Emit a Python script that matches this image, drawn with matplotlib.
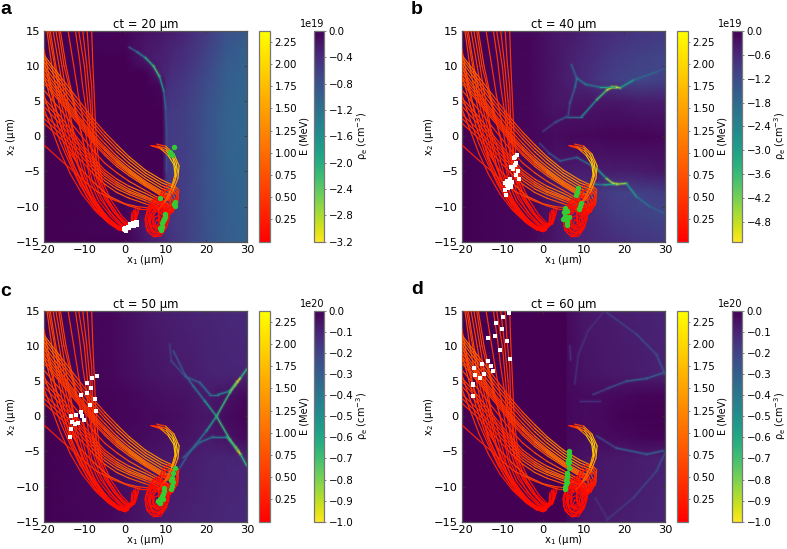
"""Electron trajectories over the plasma density map, four time steps."""
import matplotlib
matplotlib.use("Agg")
import matplotlib.pyplot as plt
import numpy as np
from matplotlib.cm import ScalarMappable
from matplotlib.collections import LineCollection
from matplotlib.colors import Normalize

plt.rcParams.update({
    "font.family": "DejaVu Sans",
    "font.size": 7,
    "mathtext.default": "regular",
    "axes.linewidth": 0.9,
    "axes.edgecolor": "#555555",
})

W, H = 787, 549
E_MAX = 2.37
E_TICKS = [0.25, 0.5, 0.75, 1.0, 1.25, 1.5, 1.75, 2.0, 2.25]
X_TICKS = [-20, -10, 0, 10, 20, 30]
Y_TICKS = [-15, -10, -5, 0, 5, 10, 15]

# trajectories, (x1, x2, E) per vertex; same set in each panel
STEEP = [
    [(-8.2,15,.5),(-7.9,10,.5),(-7.5,5,.45),(-7.2,1,.4),(-6.6,-3,.35),(-5.7,-6.2,.3),(-3.5,-9,.2),(-1,-11.2,.15),(1,-12.4,.1),(2.5,-12.3,.1),(3.2,-11,.1),(3.5,-10,.1)],
    [(-9.3,15,.5),(-8.8,10.5,.5),(-8.2,7,.45),(-8,3,.4),(-7.6,0,.4),(-7,-3.5,.3),(-6,-6.5,.25),(-4,-9.3,.2),(-1.5,-11.4,.15),(.8,-12.6,.1),(2,-12.4,.1),(2.9,-11.2,.1),(3,-10.2,.1)],
    [(-11.4,15,.5),(-10,10,.5),(-9.2,5,.45),(-8.7,1.6,.4),(-8,-2,.35),(-7,-5.5,.3),(-5.5,-8,.2),(-3,-10.6,.15),(-.5,-12.2,.1),(1,-12.9,.1),(2.3,-12.5,.1),(2.6,-11,.1),(2.5,-10.3,.1)],
    [(-12.2,15,.55),(-11.2,11,.5),(-10.4,7,.45),(-9.4,3.3,.4),(-8.8,0,.35),(-8,-3,.3),(-7,-6,.25),(-5,-8.9,.2),(-2.5,-11,.15),(-.2,-12.5,.1),(1.2,-13,.1),(2.2,-12,.1),(2.3,-10.6,.1)],
    [(-15.9,15,.6),(-14.5,10,.55),(-13,6,.5),(-11,1,.4),(-10.2,-1,.35),(-9,-4,.3),(-8,-6.5,.25),(-6,-9,.2),(-3,-11.2,.15),(-.5,-12.7,.1),(1,-13,.1),(1.8,-12,.1),(2.1,-10.5,.1)],
    [(-16.3,15,.6),(-15,10,.55),(-13.5,6.5,.5),(-12,3,.45),(-10.5,0,.4),(-9.5,-3.5,.3),(-8.5,-6.5,.25),(-6.5,-9.2,.2),(-3.5,-11.4,.15),(-1,-12.8,.1),(.6,-13.1,.1),(1.5,-12.2,.1),(1.7,-10.8,.1)],
    [(-17,15,.6),(-15.5,10,.55),(-14.4,6,.5),(-12.8,1,.4),(-11.5,-1,.35),(-10.2,-4,.3),(-9,-6.8,.25),(-7,-9.5,.2),(-4,-11.7,.15),(-1.2,-13,.1),(.4,-13.2,.1),(1.2,-12.4,.1)],
    [(-18.4,15,.65),(-17,10,.6),(-15.4,5.5,.5),(-13.1,0,.4),(-11.5,-4,.3),(-9.2,-7.5,.25),(-7,-10,.2),(-4,-12,.15),(-1.5,-13.1,.1),(.2,-13.3,.1),(1,-12.6,.1)],
    [(-19.2,15,.65),(-18,10,.6),(-17,6.9,.55),(-15,1,.4),(-13.4,-1.8,.35),(-11,-5,.3),(-9,-8,.25),(-6,-10.4,.2),(-3,-12.2,.15),(-.5,-13.3,.1),(.8,-13.2,.1)],
    [(-20,12.5,.7),(-18.5,8,.6),(-17.2,4.5,.55),(-15,0,.4),(-13.5,-3,.35),(-11,-6,.3),(-9,-8.3,.25),(-6,-11,.2),(-2.5,-12.8,.15),(-.5,-13.5,.1),(.8,-13.4,.1),(1.3,-12.5,.1)],
    [(-20,9,.7),(-18.2,5,.6),(-16.5,1.5,.5),(-14.5,-2,.4),(-12,-5.5,.3),(-9.5,-8.5,.25),(-6.5,-11,.2),(-3,-12.7,.15),(-.8,-13.4,.1),(.4,-13.5,.1)],
    [(-20,6,.6),(-18,2.5,.5),(-15.8,-1,.4),(-13.5,-4,.35),(-11,-7,.3),(-8,-9.8,.2),(-4.5,-12,.15),(-1.5,-13.2,.1),(.3,-13.4,.1)],
    [(-18.8,15,.6),(-17,9,.55),(-15.8,5,.5),(-14.2,1,.4),(-12.6,-2.5,.35),(-10.6,-5.8,.3),(-8.2,-8.8,.2),(-5,-11.2,.15),(-2,-12.8,.1),(.2,-13.1,.1),(1.5,-12.8,.1),(1.9,-11.2,.1)],
    [(-14,15,.55),(-12.6,10,.5),(-11.5,6,.45),(-10,1.5,.4),(-9,-2,.35),(-8,-5,.3),(-6.4,-8,.2),(-3.8,-10.8,.15),(-1,-12.6,.1),(.9,-13,.1),(2.1,-12.3,.1),(2.8,-10.8,.1)],
    [(-10.4,15,.5),(-9.4,10,.5),(-8.6,5,.45),(-8.1,1,.4),(-7.4,-2.5,.35),(-6.4,-5.8,.3),(-4.6,-8.6,.2),(-2,-11,.15),(.3,-12.4,.1),(1.7,-12.7,.1),(2.7,-11.6,.1)],
    [(-17.7,15,.65),(-16.2,10,.55),(-14.9,5.8,.5),(-13.2,1.5,.45),(-11.9,-2,.35),(-10,-5.6,.3),(-7.6,-8.8,.2),(-4.6,-11.4,.15),(-1.7,-13,.1),(.1,-13.2,.1)],
    [(-20,11,.7),(-18.3,6.5,.6),(-16.6,3,.5),(-14.7,-.6,.4),(-12.8,-3.8,.35),(-10.4,-7,.3),(-7.6,-9.7,.2),(-4.2,-12,.15),(-1.4,-13.3,.1),(.2,-13.6,.1),(1,-13,.1)],
    [(-20,4,.55),(-18,1,.5),(-15.8,-2.4,.4),(-13.4,-5.4,.35),(-10.6,-8.2,.25),(-7.5,-10.5,.2),(-4,-12.4,.15),(-1.4,-13.4,.1)],
]
GENTLE = [
    [(-20,11.6,1.1),(-16,8.6,.85),(-12,5.6,.6),(-8,2.6,.5),(-5,.6,.65),(-2,-1.2,.9),(1,-2.9,1.1),(5,-4.8,1.25),(9,-6.2,1.25),(12,-7,1.0),(13.2,-7.6,.6),(13,-9.4,.3),(11.4,-10.8,.2),(9.6,-10.6,.2),(8.8,-9,.3),(10,-7.6,.4)],
    [(-20,11.2,1.05),(-16,8.1,.8),(-12,5,.6),(-8,2.1,.5),(-5,.1,.65),(-2,-1.7,.9),(1,-3.3,1.1),(5,-5.2,1.25),(9,-6.6,1.25),(12,-7.3,1.0),(13,-8,.6),(12.8,-9.8,.3),(11,-11,.2),(9.4,-10.4,.2),(8.8,-8.8,.3)],
    [(-20,10.7,1.0),(-16,7.6,.8),(-12,4.5,.55),(-8,1.6,.5),(-5,-.4,.6),(-2,-2.2,.85),(1,-3.8,1.05),(5,-5.6,1.2),(9,-7,1.2),(11.8,-7.6,.9),(12.8,-8.4,.5),(12.2,-10.2,.3),(10.6,-11,.2),(9,-10,.2)],
    [(-20,10.1,.9),(-16,7,.7),(-12,3.9,.55),(-8,.9,.5),(-5,-1,.6),(-2,-2.8,.85),(1,-4.3,1.05),(5,-6,1.2),(9,-7.4,1.1),(11.6,-8,.8),(12.4,-9,.4),(11.6,-10.6,.2),(10,-10.8,.2),(8.8,-9.6,.2)],
    [(-20,9.6,.85),(-16,6.4,.65),(-12,3.3,.5),(-8,.4,.45),(-5,-1.5,.6),(-2,-3.2,.85),(1,-4.7,1.05),(5,-6.4,1.1),(9,-7.8,1.0),(11.2,-8.4,.7),(12,-9.6,.3),(11,-11,.2),(9.5,-11,.2)],
    [(-20,8.6,.7),(-16,5.6,.6),(-12,2.7,.5),(-8,-.2,.45),(-5,-2,.6),(-2,-3.7,.8),(1,-5.1,1.0),(5,-6.8,1.1),(9,-8.2,.9),(11,-8.8,.6),(11.5,-10,.3),(10.2,-11.2,.2)],
    [(-20,7.6,.65),(-16,4.9,.55),(-12,2.1,.45),(-8,-.8,.4),(-5,-2.7,.55),(-2,-4.3,.75),(1,-5.6,.9),(5,-7.1,1.0),(9,-8.5,.8),(11,-9.2,.5),(11.2,-10.4,.2)],
    [(-20,6.6,.65),(-16,3.9,.5),(-12,1,.4),(-8,-1.9,.4),(-5,-3.8,.5),(-2,-5.2,.65),(1,-6.4,.8),(5,-7.7,.9),(9,-9,.6),(10.8,-9.8,.3),(10.4,-11,.2)],
    [(-20,5.5,.6),(-16,2.9,.5),(-12,0,.4),(-8,-2.9,.4),(-5,-4.8,.5),(-2,-6.1,.7),(1,-7.1,1.0),(5,-8.1,1.1),(8,-9,.9),(10.5,-9.6,.5),(11,-10.8,.2),(9.5,-11.6,.1)],
    [(-20,5,.55),(-16,2.4,.45),(-12,-.5,.4),(-8,-3.3,.4),(-5,-5.2,.5),(-2,-6.5,.7),(1,-7.5,1.0),(5,-8.5,1.0),(8,-9.3,.8),(10,-9.9,.4),(10.4,-11,.2)],
    [(-20,3.2,.5),(-16,1,.4),(-12,-1.5,.35),(-8,-4.1,.4),(-5,-5.9,.6),(-2,-7.1,.8),(1,-8,1.0),(5,-8.9,.9),(8,-9.6,.6),(9.8,-10.3,.3),(9.2,-11.6,.1)],
    [(-20,2.6,.5),(-16,.4,.4),(-12,-2,.35),(-8,-4.6,.4),(-5,-6.3,.7),(-2,-7.5,.9),(1,-8.3,1.0),(5,-9.2,.8),(8,-9.9,.5),(9.4,-10.8,.2)],
    [(-20,1.9,.45),(-16,-.2,.35),(-12,-2.7,.35),(-8,-5.2,.4),(-5,-6.8,.7),(-2,-8,.9),(1,-8.8,.9),(5,-9.6,.7),(8,-10.2,.4),(9.2,-11.2,.1)],
    [(-20,-1.2,.3),(-16,-3.3,.3),(-13,-4.8,.3),(-10,-6.4,.35),(-7,-7.8,.5),(-3,-9,.5),(1,-9.9,.5),(4,-10.4,.4),(6,-10.4,.2),(7.5,-9.8,.1)],
    [(-14,-1.8,.35),(-11,-4.6,.35),(-8,-6.4,.5),(-4,-8.5,.7),(0,-9.6,.7),(3,-10,.6),(6,-10.2,.3),(8,-10.4,.1)],
    [(-20,9.1,.8),(-16,6,.6),(-12,3,.5),(-8,.1,.45),(-5,-1.8,.6),(-2,-3.5,.8),(1,-4.9,1.0),(5,-6.6,1.1),(9,-8,.9),(11,-8.6,.6)],
    [(-20,8.1,.7),(-16,5.2,.55),(-12,2.4,.45),(-8,-.5,.4),(-5,-2.4,.55),(-2,-4,.75),(1,-5.3,.95),(5,-6.9,1.05),(9,-8.4,.8),(11,-9,.5)],
    [(-20,4.3,.55),(-16,1.8,.45),(-12,-.9,.35),(-8,-3.7,.4),(-5,-5.5,.55),(-2,-6.8,.75),(1,-7.8,1.0),(5,-8.7,.9),(8,-9.4,.7),(10,-10.1,.3)],
]
LOOPS = [
    [(10.6,-10.6,.3),(9.8,-9.4,.2),(8.3,-8.9,.1),(6.8,-9.3,.1),(5.6,-10.5,.1),(5.3,-12,.1),(6,-13.4,.1),(7.5,-14,.1),(9.2,-13.7,.1),(10.4,-12.5,.1),(10.8,-11,.1),(10.2,-9.9,.2)],
    [(10.8,-10,.3),(9.6,-9.2,.2),(8,-9.2,.1),(6.4,-9.9,.1),(5.2,-11.2,.1),(5.1,-12.8,.1),(6.2,-13.9,.1),(7.9,-14.2,.1),(9.6,-13.4,.1),(10.6,-12,.1),(10.5,-10.5,.1)],
    [(11,-11,.3),(10.2,-9.8,.2),(8.8,-9.3,.1),(7.2,-9.6,.1),(6,-10.7,.1),(5.7,-12.1,.1),(6.5,-13.4,.1),(8,-13.8,.1),(9.6,-13.3,.1),(10.7,-12.1,.1),(10.9,-10.9,.1)],
    [(10,-9.8,.2),(8.6,-9.7,.1),(7.2,-10.2,.1),(6.2,-11.3,.1),(6.1,-12.6,.1),(7,-13.6,.1),(8.4,-13.8,.1),(9.7,-13,.1),(10.2,-11.7,.1),(9.8,-10.4,.1)],
    [(9.4,-10.2,.2),(8,-10.1,.1),(6.7,-10.8,.1),(6.2,-12,.1),(6.6,-13.2,.1),(7.9,-13.7,.1),(9.2,-13.2,.1),(9.9,-12,.1),(9.6,-10.8,.1)],
    [(11.4,-9.8,.3),(10.4,-8.6,.2),(8.8,-8.4,.1),(7,-9,.1),(5.6,-10.2,.1),(4.9,-11.8,.1),(5.4,-13.4,.1),(7,-14.3,.1),(8.8,-14.2,.1),(10.2,-13,.1),(10.9,-11.4,.1)],
    [(8.9,-10.8,.1),(7.6,-10.7,.1),(6.8,-11.5,.1),(6.8,-12.7,.1),(7.8,-13.4,.1),(9,-13,.1),(9.5,-11.9,.1),(8.9,-10.8,.1)],
    [(8.2,-11.3,.1),(7.2,-11.5,.1),(7,-12.5,.1),(7.9,-13.1,.1),(8.9,-12.6,.1),(9,-11.6,.1),(8.2,-11.3,.1)],
    [(9.8,-11,.1),(8.6,-10.2,.1),(7.3,-10.6,.1),(6.6,-11.7,.1),(7.1,-13,.1),(8.5,-13.2,.1),(9.6,-12.4,.1),(9.8,-11,.1)],
    [(8.6,-12,.1),(7.8,-11.9,.1),(7.4,-12.5,.1),(8,-12.9,.1),(8.7,-12.6,.1),(8.6,-12,.1)],
    [(7.8,-10,.1),(6.6,-10.2,.1),(5.9,-11.2,.1),(6.1,-12.5,.1),(7.2,-13,.1),(8.4,-12.4,.1),(8.6,-11,.1),(7.8,-10,.1)],
    [(10.4,-10.6,.1),(9.2,-10,.1),(8.2,-10.6,.1),(8.2,-12,.1),(9.2,-12.6,.1),(10.3,-12,.1),(10.4,-10.6,.1)],
    [(12.8,-8,.4),(12,-7,.5),(10.6,-6.9,.3),(9.2,-7.6,.2),(8.4,-8.9,.1),(8.8,-10.4,.1),(10.2,-11.2,.1),(11.8,-10.8,.1),(12.8,-9.6,.2),(12.9,-8.2,.3)],
    [(12.2,-8.2,.3),(11.2,-7.5,.3),(9.8,-7.8,.2),(9,-9,.1),(9.5,-10.4,.1),(10.9,-10.8,.1),(12.2,-10,.1),(12.6,-8.8,.2)],
    [(11.4,-8.6,.3),(10.2,-8.4,.2),(9.6,-9.4,.1),(10.4,-10.4,.1),(11.6,-10,.1),(11.9,-9,.2)],
]
ARCS = [
    [(6.3,-1.3,.1),(8,-1.4,.5),(10,-1.7,1.2),(11.5,-2.5,1.6),(12.6,-3.8,1.9),(12.9,-5,1.8),(12.2,-6.5,1.4),(11,-8,1),(9.5,-9.5,.6),(8,-10.5,.3)],
    [(7.8,-1.1,.2),(10,-1.4,.9),(12,-2.5,1.5),(13.3,-4.2,1.8),(13,-6,1.6),(11.8,-7.8,1.1),(10.2,-9.2,.6)],
    [(6.6,-1.4,.1),(8.4,-1.6,.7),(10.2,-2.1,1.4),(11.8,-3.2,1.9),(12.5,-4.5,2.0),(12.4,-5.9,1.7),(11.6,-7.2,1.2),(10.4,-8.6,.7)],
    [(7,-1.4,.2),(8.8,-1.8,.9),(10.6,-2.7,1.6),(12,-4,2.0),(12.3,-5.4,1.8),(11.4,-7.4,1.2),(9.8,-9.3,.5)],
]

TITLES = ["ct = 20 µm", "ct = 40 µm", "ct = 50 µm", "ct = 60 µm"]
LETTERS = ["a", "b", "c", "d"]
RHO_TICKS = [
    [-3.2, -2.8, -2.4, -2.0, -1.6, -1.2, -0.8, -0.4, 0.0],
    [-4.8, -4.2, -3.6, -3.0, -2.4, -1.8, -1.2, -0.6, 0.0],
    [-1.0, -0.9, -0.8, -0.7, -0.6, -0.5, -0.4, -0.3, -0.2, -0.1, 0.0],
    [-1.0, -0.9, -0.8, -0.7, -0.6, -0.5, -0.4, -0.3, -0.2, -0.1, 0.0],
]
RHO_MIN = [-3.2, -5.3, -1.0, -1.0]
RHO_EXP = ["1e19", "1e19", "1e20", "1e20"]

GRID_X = [
    [-20, 0, 5, 9.2, 10.2, 11, 15, 20, 25, 30],
    [-20, -3, 3, 8, 13, 18, 23, 30],
    [-20, -3, 5, 10, 15, 20, 25, 30],
    [-20, 5.6, 6, 10, 15, 20, 25, 30],
]
GRID_Y = [
    [-15, -13, -8, -3, 3, 7, 9, 11, 13, 15],
    [-15, -11, -8, -5, 0, 5, 8, 11, 15],
    [-15, -6, -3, 0, 3, 6, 15],
    [-15, -6, -3, 0, 3, 6, 15],
]
GRID_RHO = [
    [[0, 0, -.2, -.35, -.4, -.45, -.6, -.8, -.95, -1.0],
     [0, -.05, -.25, -.4, -.45, -.5, -.6, -.8, -.95, -1.0],
     [0, 0, 0, 0, -.45, -.5, -.6, -.8, -.95, -1.05],
     [0, 0, 0, 0, -.5, -.55, -.6, -.8, -1.0, -1.05],
     [0, 0, 0, 0, -.5, -.55, -.6, -.8, -1.0, -1.05],
     [0, 0, 0, -.05, -.4, -.45, -.55, -.75, -.95, -1.05],
     [0, 0, 0, -.3, -.35, -.4, -.5, -.7, -.95, -1.0],
     [0, 0, -.2, -.3, -.3, -.35, -.45, -.65, -.9, -1.0],
     [0, -.05, -.2, -.25, -.3, -.3, -.4, -.6, -.85, -.95],
     [0, -.05, -.15, -.2, -.25, -.25, -.35, -.55, -.8, -.9]],
    [[0, -.1, -.3, -.5, -.6, -.7, -.8, -.9],
     [0, -.1, -.3, -.5, -.7, -.9, -1, -1.1],
     [0, -.1, -.3, -.5, -.8, -1, -1, -.9],
     [0, -.1, -.3, -.4, -.4, -.4, -.4, -.3],
     [0, -.1, -.15, -.1, -.1, -.05, -.05, -.1],
     [0, -.1, -.3, -.3, -.3, -.3, -.4, -.4],
     [0, -.1, -.3, -.5, -.8, -1, -1.1, -1],
     [0, -.1, -.3, -.5, -.7, -.9, -1, -1.1],
     [0, -.1, -.3, -.4, -.6, -.7, -.8, -.9]],
    [[0, -.02, -.06, -.08, -.09, -.1, -.11, -.12],
     [0, -.02, -.05, -.06, -.07, -.09, -.1, -.1],
     [0, -.01, -.03, -.04, -.05, -.07, -.05, -.02],
     [0, -.01, -.02, -.03, -.04, -.06, -.03, -.01],
     [0, -.01, -.03, -.04, -.05, -.07, -.05, -.02],
     [0, -.02, -.05, -.06, -.07, -.09, -.1, -.1],
     [0, -.02, -.06, -.08, -.09, -.1, -.11, -.12]],
    [[0, 0, -.025, -.06, -.07, -.08, -.09, -.1],
     [0, 0, -.025, -.05, -.06, -.07, -.08, -.09],
     [0, 0, -.02, -.03, -.03, -.02, -.01, -.01],
     [0, 0, -.02, -.03, -.02, -.005, 0, 0],
     [0, 0, -.02, -.03, -.03, -.02, -.01, -.01],
     [0, 0, -.025, -.05, -.06, -.07, -.08, -.09],
     [0, 0, -.025, -.06, -.07, -.08, -.09, -.1]],
]

# bright density filaments, (x1, x2, rho) per vertex
RIDGES = [
    [
        [(1,12.7,-.7),(3,12,-1.1),(5,11.2,-1.6),(7,10,-2.4),(8.5,8.5,-2.1),(9.5,6.5,-1.3),(10,4,-.9),(10.3,0,-.8),(10.2,-5,-.7)],
    ],
    [
        [(0,.7,-.7),(3,2,-1.2),(5.8,2.8,-1.6),(9.5,2.8,-2),(13.2,5.2,-3),(15.7,6.6,-4.4),(17,7,-5.3),(17.9,7,-5.3),(19,6.9,-3.8),(22.2,8,-2),(28,9.2,-1.6),(30,9.7,-1.3)],
        [(8.3,8.3,-2.4),(10.5,7.4,-1.7),(14,7,-2.4),(17.7,7,-3.8)],
        [(7,10.2,-1),(8.3,8.3,-2.2),(7.9,7,-1.8),(6.6,4.7,-1.3),(6.2,3,-1)],
        [(-.8,-1,-.7),(1.5,-2.4,-1.2),(4.2,-3.5,-1.5),(8.3,-3,-1.4),(13.2,-4.6,-2.2),(15.6,-6,-3.4),(17.2,-6.7,-5.3),(18.2,-6.8,-5.3),(20.5,-6.7,-3.4),(23,-8.6,-2.2),(26.3,-10,-1.7),(30,-11,-1.4)],
        [(12.3,-6.8,-1.7),(15,-6.9,-2.4),(17.9,-6.8,-3.8)],
    ],
    [
        [(29.9,6.7,-.42),(28.3,5.4,-.9),(27.6,4.9,-1),(27,4.4,-.9),(25.8,3.4,-.65),(22.5,0,-.7),(25.8,-3.3,-.65),(27.2,-4.4,-.9),(27.8,-4.9,-1),(28.4,-5.4,-.9),(29.9,-7,-.42)],
        [(11.9,9.3,-.22),(14.7,6,-.3),(16.8,4.3,-.36),(19.6,2.2,-.42),(22.5,0,-.7),(20,-2.1,-.42),(16,-5,-.34),(13.5,-7.3,-.25)],
        [(14.7,5.7,-.25),(18.4,4.8,-.34),(20.9,3.1,-.38),(22.9,3.1,-.36),(25.8,3.6,-.55),(27.6,4.9,-.85)],
        [(14.3,-5.9,-.25),(18.4,-3.7,-.34),(21.7,-2.9,-.38),(25,-2.9,-.42),(27.8,-4.9,-.85)],
        [(11,10.3,-.17),(11.4,7.9,-.18),(14.3,6,-.25)],
    ],
    [
        [(12.3,3.1,-.16),(16,4,-.2),(20.5,5,-.27),(25.5,5.4,-.36),(29.6,6.2,-.25)],
        [(13.2,-2.8,-.16),(18,-4.5,-.24),(25.5,-5.4,-.36),(29.6,-4.9,-.25)],
        [(15.6,14.8,-.17),(23,11.7,-.2),(27.9,8.8,-.24),(30,6,-.26)],
        [(30,-5.2,-.26),(27.9,-7.8,-.22),(22.2,-11.6,-.18),(15.6,-14.8,-.16)],
        [(14.8,14.8,-.13),(11.1,12.2,-.13),(8.7,8.8,-.13),(7.8,4.6,-.12)],
        [(12.8,-11.6,-.13),(16,-14.7,-.14)],
        [(6.6,10,-.14),(6.8,8,-.14)],
        [(9,2.2,-.16),(14,2.2,-.12)],
    ],
]

WHITE_X = [
    [-.3, 0, .3, .5, .8, 1, 1.3, 1.5, 1.8, 2, 2.3, 2.6, 3, 2.7, .2, -.1, 1.2, 2.2, 2.9],
    [-6.4, -6.8, -7.2, -6.7, -7, -7.8, -7.4, -6.1, -6.6, -5.9, -8.2, -8.8, -8.4, -7.6, -9.3, -8.9, -7.8, -8.4, -7.9, -8.6, -9.3, -9],
    [-7, -8.2, -9.4, -8.3, -9.4, -10.9, -7.5, -8.7, -7.1, -10.8, -10.5, -12.1, -13.2, -10, -13, -11.5, -12.3, -13.4, -13.5],
    [-8.4, -9.9, -11.6, -10.2, -11.7, -13.6, -8.9, -10.5, -8.2, -13.5, -15, -12.9, -17, -12.4, -14.4, -16.8, -15.4, -17.1, -17.2, -17.2],
]
WHITE_Y = [
    [-13.2, -13.4, -13.5, -13, -12.9, -13, -12.8, -12.5, -12.6, -12.3, -12.4, -12.2, -12.2, -12.6, -13, -13, -12.5, -12.7, -12.6],
    [-2.7, -2.9, -3.1, -3.8, -4.1, -4.3, -4.6, -5, -5.5, -6.1, -6.1, -6.4, -6.6, -6.5, -6.7, -6.9, -6.9, -7, -7.2, -7.3, -7.6, -8.3],
    [5.7, 5.4, 4.7, 4, 3.3, 3.1, 2.5, 1.6, .8, .6, .1, .2, 0, -.5, -.8, -1, -1.1, -1.8, -3],
    [14.7, 14.1, 13.3, 12.5, 11.5, 11.2, 10.7, 9.5, 8.2, 7.9, 7.4, 7.2, 6.9, 6.4, 6, 5.9, 5.5, 4.6, 4.4, 2.9],
]
GREEN_X = [
    [12, 11, 11.2, 11.5, 8.6, 12.3, 12.1, 12.2, 9.9, 9.8, 9.5, 9.3, 9, 9, 8.7, 8.9],
    [8.6, 8.3, 8.1, 9.3, 9, 8.9, 5.5, 5.8, 5.2, 6, 5.5, 6.5, 4.8, 5.6, 6, 5.9, 5.8],
    [12.2, 11.9, 11.6, 11.4, 11.9, 11.6, 11.2, 9.7, 9.6, 9.4, 9.2, 9.3, 8.7, 8.4, 8.7, 8.2],
    [6.5, 6.3, 6.4, 6.1, 6.5, 6.2, 6.3, 6, 5.9, 5.8, 5.6, 5.8, 5.6, 5.4, 5.3],
]
GREEN_Y = [
    [-1.5, -2.2, -2.5, -2.6, -8.8, -9.3, -9.6, -9.9, -11, -11.5, -11.8, -12.1, -12.4, -12.9, -13, -13.4],
    [-7.3, -7.9, -8.4, -9.5, -9.9, -10.3, -10.2, -10.6, -10.8, -10.7, -11.3, -11.5, -11.7, -11.5, -12.1, -12.4, -12.6],
    [-7.4, -8, -8.8, -9.1, -9.4, -9.9, -10.3, -10.2, -10.7, -11, -11.4, -11.8, -11.8, -12.2, -12.4, -12.1],
    [-5, -5.4, -5.8, -6.2, -6.5, -6.7, -7.4, -8, -8.3, -8.7, -9, -9.4, -9.7, -10, -10.4],
]

# panel origins in pixels (left, top)
ORIGINS = [(43.7, 31), (461.7, 31), (43.7, 311), (461.7, 311)]
LETTER_XY = [(0, 10), (411, 9), (0, 291), (411, 290)]


def px_axes(fig, left, top, width, height):
    return fig.add_axes([left / W, 1 - (top + height) / H, width / W, height / H])


def add_lines(ax, tracks, cmap, norm, lw, alpha=1.0, zorder=3):
    segs, vals = [], []
    for tr in tracks:
        pts = np.array(tr, dtype=float)
        for a, b in zip(pts[:-1], pts[1:]):
            segs.append([a[:2], b[:2]])
            vals.append((a[2] + b[2]) / 2)
    lc = LineCollection(segs, colors=cmap(norm(vals)), linewidths=lw, alpha=alpha,
                        zorder=zorder, capstyle="round")
    ax.add_collection(lc)


fig = plt.figure(figsize=(W / 100, H / 100), dpi=100)
e_norm = Normalize(0, E_MAX)
e_cmap = plt.get_cmap("autumn")
rho_cmap = plt.get_cmap("viridis_r")
all_tracks = STEEP + GENTLE + LOOPS + ARCS

for i in range(4):
    left, top = ORIGINS[i]
    ax = px_axes(fig, left, top, 203.3, 210.7)
    rho_norm = Normalize(RHO_MIN[i], 0)
    ax.pcolormesh(GRID_X[i], GRID_Y[i], np.array(GRID_RHO[i]), cmap=rho_cmap, norm=rho_norm,
                  shading="gouraud", zorder=1, rasterized=True)
    # soft edge on the filaments
    add_lines(ax, RIDGES[i], rho_cmap, rho_norm, 3.2, alpha=0.13, zorder=2)
    add_lines(ax, RIDGES[i], rho_cmap, rho_norm, 1.9, alpha=0.28, zorder=2)
    add_lines(ax, RIDGES[i], rho_cmap, rho_norm, 0.8, alpha=0.9, zorder=2)
    add_lines(ax, all_tracks, e_cmap, e_norm, 0.85)
    ax.scatter(WHITE_X[i], WHITE_Y[i], s=10, marker="s", color="white", linewidths=0, zorder=5)
    ax.scatter(GREEN_X[i], GREEN_Y[i], s=15, color="#33cc33", linewidths=0, zorder=5)
    ax.set_xlim(-20, 30)
    ax.set_ylim(-15, 15)
    ax.set_xticks(X_TICKS)
    ax.set_yticks(Y_TICKS)
    ax.tick_params(direction="in", length=2.5, width=0.5, top=True, right=True,
                   labelsize=8.2, pad=2.5, color="#333333")
    ax.set_xlabel(r"x$_1$ (µm)", fontsize=7.2, labelpad=-1.5)
    ax.set_ylabel(r"x$_2$ (µm)", fontsize=7.2, labelpad=-1)
    ax.set_title(TITLES[i], fontsize=8.4, pad=2.5)
    fig.text(LETTER_XY[i][0] / W, 1 - LETTER_XY[i][1] / H, LETTERS[i], fontsize=14,
             fontweight="bold", family="Liberation Sans", va="center", ha="left")

    cax_e = px_axes(fig, left + 215.6, top, 11, 210.7)
    cb_e = fig.colorbar(ScalarMappable(e_norm, e_cmap), cax=cax_e)
    cb_e.set_ticks(E_TICKS)
    cb_e.set_ticklabels([f"{v:.2f}" for v in E_TICKS])
    cb_e.ax.tick_params(labelsize=7.4, length=1.5, width=0.5, pad=1.5, color="#555555")
    cb_e.outline.set_edgecolor("#777777")
    cb_e.outline.set_linewidth(0.9)
    cb_e.set_label("E (MeV)", fontsize=7, labelpad=1.5)

    cax_r = px_axes(fig, left + 270, top, 10.6, 210.7)
    cb_r = fig.colorbar(ScalarMappable(rho_norm, rho_cmap), cax=cax_r)
    cb_r.set_ticks(RHO_TICKS[i])
    cb_r.set_ticklabels([f"{v:.1f}".replace("-", "\u2212") for v in RHO_TICKS[i]])
    cb_r.ax.tick_params(labelsize=7.4, length=1.5, width=0.5, pad=1.5, color="#555555")
    cb_r.outline.set_edgecolor("#777777")
    cb_r.outline.set_linewidth(0.9)
    cb_r.set_label(r"$\rho_e$ (cm$^{-3}$)", fontsize=7, labelpad=0.5)
    cax_r.text(1.0, 1.01, RHO_EXP[i], transform=cax_r.transAxes, fontsize=7,
               ha="right", va="bottom")

fig.savefig("out.png", dpi=100)
